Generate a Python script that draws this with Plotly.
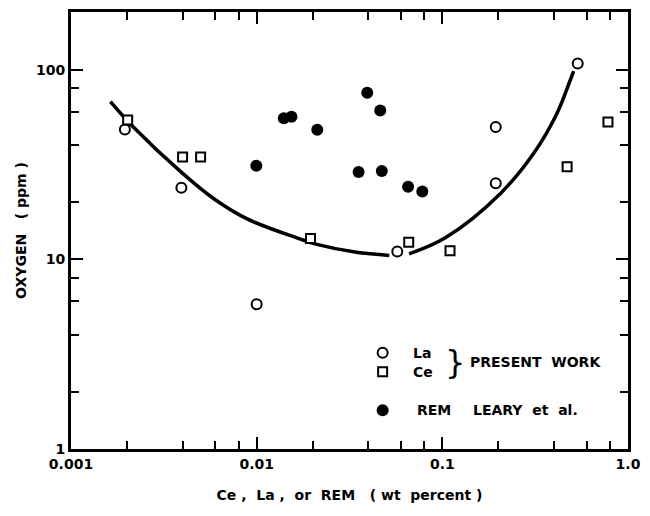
import plotly.graph_objects as go

# ---- data ----
la_x = [0.00195, 0.00393, 0.0100, 0.0572, 0.194, 0.194, 0.536]
la_y = [48.5, 23.9, 5.8, 11.0, 50.0, 25.2, 108.0]

ce_x = [0.00202, 0.00399, 0.00499, 0.0195, 0.0659, 0.110, 0.47, 0.78]
ce_y = [54.4, 34.7, 34.7, 12.9, 12.3, 11.1, 30.8, 53.0]

rem_x = [0.00996, 0.0140, 0.0154, 0.0212, 0.0394, 0.0463, 0.0354, 0.0472, 0.0654, 0.078]
rem_y = [31.2, 55.5, 56.6, 48.3, 75.7, 61.1, 28.9, 29.3, 24.2, 22.8]

curve_left_x = [0.00163, 0.00214, 0.00395, 0.00596, 0.00895, 0.0172, 0.0211, 0.0344, 0.0518]
curve_left_y = [68.0, 50.6, 28.7, 20.7, 16.3, 12.8, 12.0, 10.9, 10.5]
curve_right_x = [0.0662, 0.1038, 0.2077, 0.3126, 0.416, 0.49, 0.51]
curve_right_y = [10.7, 13.0, 22.5, 36.6, 59.4, 88.9, 98.4]

x_major = [0.001, 0.01, 0.1, 1.0]
x_major_text = ["0.001", "0.01", "0.1", "1.0"]
x_minor = [m * d for d in (0.001, 0.01, 0.1) for m in (2, 4, 6, 8)]
y_major = [1, 10, 100]
y_major_text = ["1", "10", "100"]
y_minor = [m * d for d in (1, 10) for m in (2, 4, 6, 8)]

FONT = "DejaVu Sans"

fig = go.Figure()

curve_x = curve_left_x + [None] + curve_right_x
curve_y = curve_left_y + [None] + curve_right_y
fig.add_trace(go.Scatter(x=curve_x, y=curve_y, mode="lines",
                         line=dict(color="black", width=3.5, shape="spline", smoothing=1.0),
                         connectgaps=False, hoverinfo="skip"))

fig.add_trace(go.Scatter(x=rem_x, y=rem_y, mode="markers",
                         marker=dict(symbol="circle", size=12, color="black",
                                     line=dict(color="black", width=0))))
fig.add_trace(go.Scatter(x=la_x, y=la_y, mode="markers",
                         marker=dict(symbol="circle", size=10, color="white",
                                     line=dict(color="black", width=2))))
fig.add_trace(go.Scatter(x=ce_x, y=ce_y, mode="markers",
                         marker=dict(symbol="square", size=9, color="white",
                                     line=dict(color="black", width=2))))

# legend key markers on an invisible overlay axis (paper-like 0..1)
key_x = [0.5595, 0.5595, 0.5595]
key_y = [0.2205, 0.177, 0.0886]
fig.add_trace(go.Scatter(x=key_x[:1], y=key_y[:1], xaxis="x2", yaxis="y2", mode="markers",
                         marker=dict(symbol="circle", size=10, color="white",
                                     line=dict(color="black", width=2))))
fig.add_trace(go.Scatter(x=key_x[1:2], y=key_y[1:2], xaxis="x2", yaxis="y2", mode="markers",
                         marker=dict(symbol="square", size=9, color="white",
                                     line=dict(color="black", width=2))))
fig.add_trace(go.Scatter(x=key_x[2:], y=key_y[2:], xaxis="x2", yaxis="y2", mode="markers",
                         marker=dict(symbol="circle", size=12, color="black")))

axis_common = dict(
    type="log", showgrid=False, zeroline=False,
    showline=True, linecolor="black", linewidth=3, mirror="ticks",
    ticks="inside", ticklen=12, tickwidth=2, tickcolor="black",
    tickfont=dict(family=FONT, size=14, color="black", weight="bold"),
)

title_font = dict(family=FONT, size=14, color="black", weight="bold")

fig.update_layout(
    width=650, height=516,
    margin=dict(l=71, r=16, t=9, b=67),
    paper_bgcolor="white", plot_bgcolor="white",
    showlegend=False,
    xaxis=dict(**axis_common, range=[-3, 0],
               tickmode="array", tickvals=x_major, ticktext=x_major_text,
               minor=dict(tickmode="array", tickvals=x_minor, ticks="inside",
                          ticklen=8, tickwidth=2, tickcolor="black"),
               title=dict(text="Ce ,  La ,  or  REM   ( wt  percent )", standoff=20,
                          font=title_font)),
    yaxis=dict(**axis_common, range=[0, 2.305],
               tickmode="array", tickvals=y_major, ticktext=y_major_text,
               minor=dict(tickmode="array", tickvals=y_minor, ticks="inside",
                          ticklen=8, tickwidth=2, tickcolor="black"),
               title=dict(text="OXYGEN   ( ppm )", standoff=7, font=title_font)),
    xaxis2=dict(overlaying="x", range=[0, 1], visible=False, anchor="y2"),
    yaxis2=dict(overlaying="y", range=[0, 1], visible=False, anchor="x2"),
)

ann_font = dict(family=FONT, size=14, color="black", weight="bold")
labels = [
    ("La", 0.611, 0.2205),
    ("Ce", 0.611, 0.177),
    ("PRESENT  WORK", 0.713, 0.199),
    ("REM", 0.618, 0.0886),
    ("LEARY  et  al.", 0.718, 0.0886),
]
for text, x, y in labels:
    fig.add_annotation(text=text, x=x, y=y, xref="paper", yref="paper",
                       xanchor="left", yanchor="middle", showarrow=False, font=ann_font)
fig.add_annotation(text="}", x=0.668, y=0.199, xref="paper", yref="paper",
                   xanchor="left", yanchor="middle", showarrow=False,
                   font=dict(family=FONT, size=32, color="black"))

fig.write_html("out.html")
